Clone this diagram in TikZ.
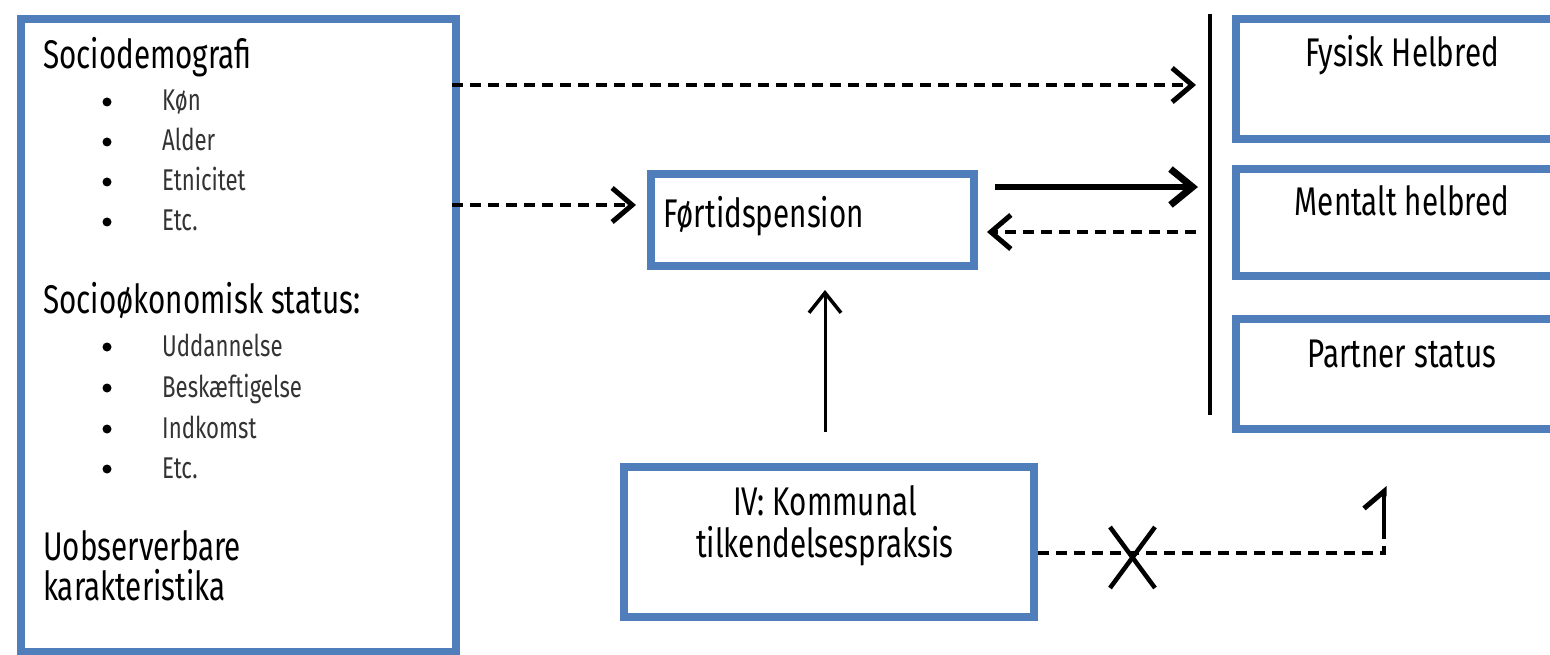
\documentclass[tikz,border=0pt]{standalone}
\usepackage{fontspec}
\setmainfont{Fira Sans}[FakeStretch=0.74]
\usetikzlibrary{arrows.meta}
\definecolor{boxblue}{RGB}{80,126,187}
\tikzset{
  bx/.style={draw=boxblue, line width=8pt, fill=white, rectangle, anchor=north west, inner sep=0pt},
  hd/.style={anchor=base west, inner sep=0pt, font=\fontsize{40}{48}\selectfont},
  it/.style={anchor=base west, inner sep=0pt, font=\fontsize{30}{36}\selectfont, text=black!80},
  bul/.style={circle, fill=black, inner sep=0pt, minimum size=9pt},
  lbl/.style={inner sep=0pt, font=\fontsize{40}{48}\selectfont},
  chev/.tip={Straight Barb[length=20pt, width=34pt, line width=5pt]},
  dasharrow/.style={line width=4.5pt, dash pattern=on 11pt off 7pt, -chev},
  solidarrow/.style={line width=6.5pt, -{Straight Barb[length=22pt, width=36pt, line width=7pt]}},
}
\begin{document}
\begin{tikzpicture}[x=1pt,y=-1pt]
\clip (0,0) rectangle (1550,655);
\fill[white] (0,0) rectangle (1550,655);

% boxes
\node[bx, minimum width=435pt, minimum height=633pt] (soc) at (17,15) {};
\node[bx, minimum width=323pt, minimum height=92pt] (ftp) at (647,170) {};
\node[bx, minimum width=410pt, minimum height=150pt] (iv) at (620,463) {};
\node[bx, minimum width=380pt, minimum height=120pt] (fys) at (1232,15) {};
\node[bx, minimum width=380pt, minimum height=107pt] (men) at (1232,165) {};
\node[bx, minimum width=380pt, minimum height=110pt] (par) at (1232,315) {};

% left box text
\node[hd] (t1) at (43,69) {Sociodemografi};
\foreach \y/\t [count=\i] in {111/Køn,151/Alder,191/Etnicitet,231/Etc.}{
  \node[bul] (b1\i) at (107,\y-9) {};
  \node[it] (i1\i) at (162,\y) {\t};
}
\node[hd] (t2) at (43,313) {Socioøkonomisk status:};
\foreach \y/\t [count=\i] in {356/Uddannelse,397/Beskæftigelse,438/Indkomst,478/Etc.}{
  \node[bul] (b2\i) at (107,\y-9) {};
  \node[it] (i2\i) at (162,\y) {\t};
}
\node[hd] (t3) at (43,560) {Uobserverbare};
\node[hd] (t4) at (43,600) {karakteristika};

% other labels
\node[hd] (ftpl) at (663,228) {Førtidspension};
\node[lbl, anchor=base] (ivl1) at (825,515) {IV: Kommunal};
\node[lbl, anchor=base] (ivl2) at (825,557) {tilkendelsespraksis};
\node[lbl, anchor=base] (fysl) at (1402,67) {Fysisk Helbred};
\node[lbl, anchor=base] (menl) at (1402,215) {Mentalt helbred};
\node[lbl, anchor=base] (parl) at (1402,367) {Partner status};

% vertical bar
\coordinate (bartop) at (1210,14);
\coordinate (barbot) at (1210,415);
\draw[line width=4pt] (bartop) -- (barbot);

% connectors
\coordinate (a1s) at (452,85);
\coordinate (a1e) at (1196,85);
\draw[dasharrow] (a1s) -- (a1e);

\coordinate (a2s) at (452,205);
\coordinate (a2e) at (636,205);
\draw[dasharrow] (a2s) -- (a2e);
\coordinate (a3s) at (995,187);
\coordinate (a3e) at (1198,187);
\draw[solidarrow] (a3s) -- (a3e);
\coordinate (a4s) at (1196,232);
\coordinate (a4e) at (987,232);
\draw[dasharrow] (a4s) -- (a4e);
\coordinate (a5s) at (825,432);
\coordinate (a5e) at (825,290);
\draw[line width=3pt, -{Straight Barb[length=20pt, width=32pt, line width=3.5pt]}] (a5s) -- (a5e);

\coordinate (a6c) at (1384,553);
\coordinate (a6m) at (1384,530);
\coordinate (a6e) at (1384,486);
\draw[line width=4pt, dash pattern=on 11pt off 7pt] (iv.east |- a6c) -- (a6c) -- (a6m);
\draw[line width=4pt, -{Straight Barb[harpoon, length=17pt, width=40pt, line width=5pt]}] (a6m) -- (a6e);

% cross
\draw[line width=4.5pt] (1110,527) -- (1155,588);
\draw[line width=4.5pt] (1155,527) -- (1110,588);
\end{tikzpicture}
\end{document}
